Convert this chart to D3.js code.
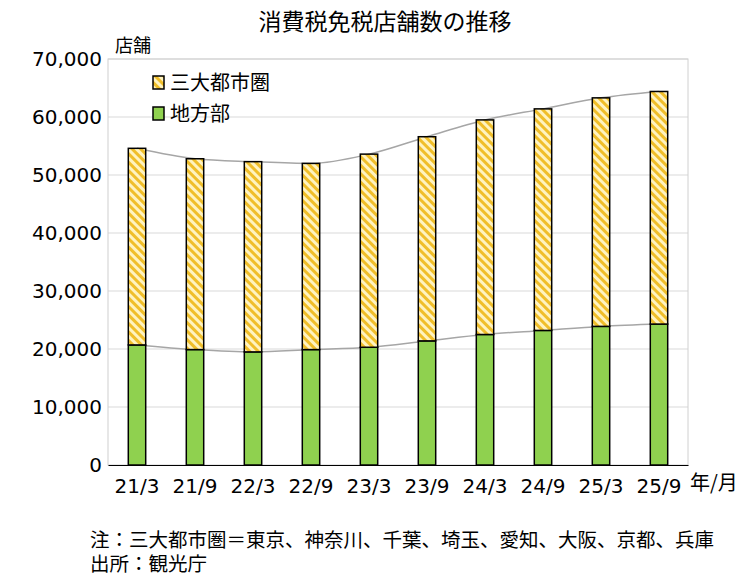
<!DOCTYPE html>
<html><head><meta charset="utf-8">
<script src="https://cdn.jsdelivr.net/npm/d3@7"></script>
<style>
body{margin:0;background:#fff}
text{font-family:"Noto Sans CJK JP","Noto Sans",sans-serif;fill:#000}
</style></head><body>
<svg width="750" height="580"></svg>
<script>
const periods = ["21/3","21/9","22/3","22/9","23/3","23/9","24/3","24/9","25/3","25/9"];
const metro = [33900,32900,32800,32100,33300,35200,37000,38200,39400,40100];
const local = [20700,19900,19500,19900,20300,21400,22500,23200,23900,24300];
const yTicks = [0,10000,20000,30000,40000,50000,60000,70000];

const svg = d3.select("svg");
const margin = {top:59, left:108, right:62, bottom:115};
const width = 750 - margin.left - margin.right, height = 580 - margin.top - margin.bottom;

// hatch pattern
const pat = svg.append("defs").append("pattern")
  .attr("id","hatch").attr("patternUnits","userSpaceOnUse")
  .attr("width",6).attr("height",6).attr("patternTransform","rotate(-45)");
pat.append("rect").attr("width",6).attr("height",6).attr("fill","#fff3c0");
pat.append("rect").attr("width",3).attr("height",6).attr("fill","#f0be2a");

const g = svg.append("g").attr("transform",`translate(${margin.left},${margin.top})`);
const x = d3.scaleBand().domain(periods).range([0,width]).paddingInner(0.7).paddingOuter(0.35);
const y = d3.scaleLinear().domain([0,70000]).range([height,0]);

// grid
g.selectAll(".grid").data(yTicks.slice(1)).enter().append("line")
  .attr("x1",0).attr("x2",width).attr("y1",d=>y(d)).attr("y2",d=>y(d))
  .attr("stroke","#d9d9d9");
g.append("rect").attr("width",width).attr("height",height).attr("fill","none").attr("stroke","#d0d0d0");

// y axis
const ya = g.append("g").call(d3.axisLeft(y).tickValues(yTicks).tickFormat(d3.format(",")).tickSize(0).tickPadding(6));
ya.select(".domain").remove();
ya.selectAll("text").style("font-family","Verdana,'DejaVu Sans',sans-serif").style("font-size","20px");

// x axis
const xa = g.append("g").attr("transform",`translate(0,${height})`).call(d3.axisBottom(x).tickSize(0).tickPadding(14));
xa.select(".domain").attr("stroke","#000");
xa.selectAll("text").style("font-family","Verdana,'DejaVu Sans',sans-serif").style("font-size","20px");

const totals = periods.map((p,i)=>local[i]+metro[i]);
const cx = p => x(p)+x.bandwidth()/2;
const line = d3.line().x(d=>cx(d.p)).y(d=>y(d.v)).curve(d3.curveMonotoneX);
g.append("path").datum(periods.map((p,i)=>({p,v:totals[i]}))).attr("d",line).attr("fill","none").attr("stroke","#a6a6a6").attr("stroke-width",1.5);
g.append("path").datum(periods.map((p,i)=>({p,v:local[i]}))).attr("d",line).attr("fill","none").attr("stroke","#a6a6a6").attr("stroke-width",1.5);

// bars
g.selectAll(".loc").data(periods).enter().append("rect")
  .attr("x",d=>x(d)).attr("width",x.bandwidth())
  .attr("y",(d,i)=>y(local[i])).attr("height",(d,i)=>height-y(local[i]))
  .attr("fill","#8fd14f").attr("stroke","#000").attr("stroke-width",1.5);
g.selectAll(".met").data(periods).enter().append("rect")
  .attr("x",d=>x(d)).attr("width",x.bandwidth())
  .attr("y",(d,i)=>y(totals[i])).attr("height",(d,i)=>y(local[i])-y(totals[i]))
  .attr("fill","url(#hatch)").attr("stroke","#000").attr("stroke-width",1.5);

// legend
const lg = svg.append("g").attr("transform","translate(153,76)");
[["三大都市圏","url(#hatch)"],["地方部","#8fd14f"]].forEach(([t,f],i)=>{
  lg.append("rect").attr("x",0).attr("y",i*31).attr("width",11).attr("height",13).attr("fill",f).attr("stroke","#000").attr("stroke-width",1.5);
  lg.append("text").attr("x",17).attr("y",i*31+14).style("font-size","20px").text(t);
});

// titles
svg.append("text").attr("x",385).attr("y",30).attr("text-anchor","middle").style("font-size","23px").text("消費税免税店舗数の推移");
svg.append("text").attr("x",115).attr("y",52).style("font-size","18px").text("店舗");
svg.append("text").attr("x",690).attr("y",490).style("font-size","20px").text("年/月");
svg.append("text").attr("x",90).attr("y",547).style("font-size","19.5px").text("注：三大都市圏＝東京、神奈川、千葉、埼玉、愛知、大阪、京都、兵庫");
svg.append("text").attr("x",90).attr("y",571).style("font-size","19.5px").text("出所：観光庁");
</script></body></html>
